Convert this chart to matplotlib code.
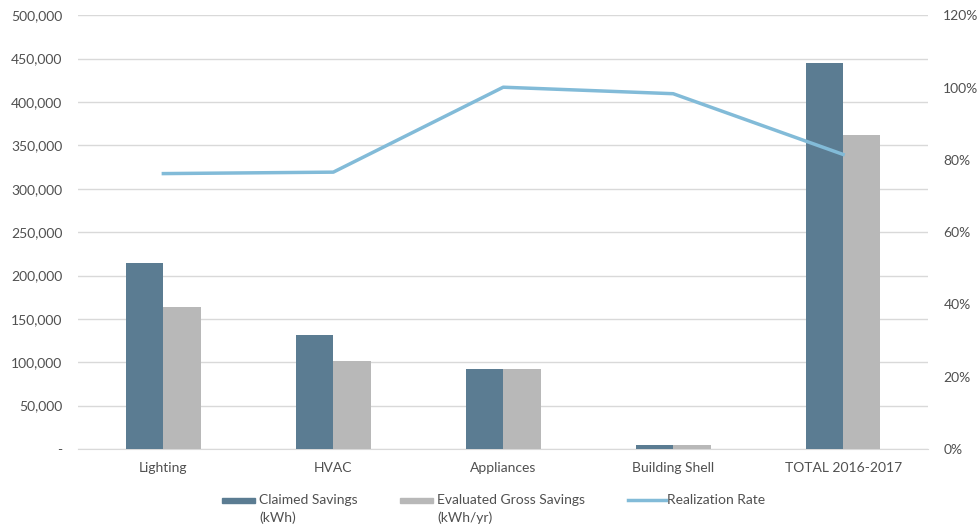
import matplotlib
matplotlib.use("Agg")
import matplotlib.pyplot as plt
import numpy as np
from matplotlib.patches import Rectangle
from matplotlib.lines import Line2D

categories = ["Lighting", "HVAC", "Appliances", "Building Shell", "TOTAL 2016-2017"]
claimed = [215000, 132000, 92500, 4600, 444500]
evaluated = [164000, 101500, 92500, 4600, 362500]
realization = [0.762, 0.766, 1.001, 0.983, 0.815]
left_ticks = [0, 50000, 100000, 150000, 200000, 250000, 300000, 350000, 400000, 450000, 500000]
left_labels = ["-"] + [f"{v:,}" for v in left_ticks[1:]]
right_ticks = [0, 0.2, 0.4, 0.6, 0.8, 1.0, 1.2]
right_labels = ["0%", "20%", "40%", "60%", "80%", "100%", "120%"]
legend_labels = [["Claimed Savings", "(kWh)"], ["Evaluated Gross Savings", "(kWh/yr)"], ["Realization Rate"]]

c_claimed = "#5b7c92"
c_eval = "#b8b8b8"
c_line = "#82bbd8"
txt = "#505050"
plt.rcParams['font.family'] = ['Lato', 'DejaVu Sans']

W, H = 980, 527
fig = plt.figure(figsize=(W / 100, H / 100), dpi=100)
ax = fig.add_axes([0.080, 0.148, 0.867, 0.823])
x = np.arange(len(categories))
w = 0.22
ax.bar(x - w/2, claimed, w, color=c_claimed, zorder=3)
ax.bar(x + w/2, evaluated, w, color=c_eval, zorder=3)
ax.set_xlim(-0.5, len(categories) - 0.5)
ax.set_ylim(0, 500000)
ax.set_yticks(left_ticks)
ax.set_yticklabels(left_labels)
ax.set_xticks(x)
ax.set_xticklabels(categories)
ax.grid(axis='y', color="#d9d9d9", linewidth=1, zorder=0)
for s in ["top", "right", "left"]:
    ax.spines[s].set_visible(False)
ax.spines["bottom"].set_color("#d9d9d9")
ax.tick_params(axis='both', length=0, labelsize=10, colors=txt)
ax.tick_params(axis='y', pad=11.5)
ax.tick_params(axis='x', pad=9)

ax2 = ax.twinx()
ax2.plot(x, realization, color=c_line, linewidth=2.5, zorder=4)
ax2.set_ylim(0, 1.2)
ax2.set_yticks(right_ticks)
ax2.set_yticklabels(right_labels)
for s in ax2.spines.values():
    s.set_visible(False)
ax2.tick_params(axis='y', length=0, labelsize=10, colors=txt, pad=11)

# legend (manual layout, pixel positions converted to figure fraction)
def fx(px):
    return px / W

def fy(py):
    return 1 - py / H

y1, y2 = 500, 518
fig.patches.append(Rectangle((fx(222), fy(502.5)), fx(33), 5 / H, color=c_claimed,
                             transform=fig.transFigure, figure=fig))
fig.patches.append(Rectangle((fx(400), fy(502.5)), fx(33), 5 / H, color=c_eval,
                             transform=fig.transFigure, figure=fig))
fig.lines.append(Line2D([fx(628), fx(666)], [fy(y1), fy(y1)], color=c_line, linewidth=2.5,
                        transform=fig.transFigure, figure=fig))
for xpos, lines in zip([259, 437, 667], legend_labels):
    for i, line in enumerate(lines):
        fig.text(fx(xpos), fy(y1 if i == 0 else y2), line, ha='left', va='center',
                 fontsize=10, color=txt)

fig.savefig("out.png", dpi=100)
